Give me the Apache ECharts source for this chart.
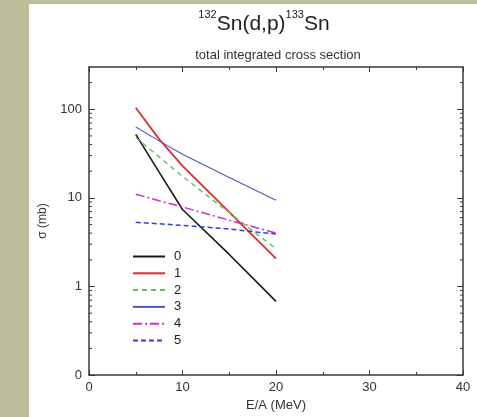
<!DOCTYPE html>
<html><head><meta charset="utf-8">
<script src="https://cdn.jsdelivr.net/npm/echarts@6/dist/echarts.min.js"></script>
<style>html,body{margin:0;padding:0;background:#fff}#wrap{position:relative;width:477px;height:417px;background:#bdbe99}#c{position:absolute;left:29px;top:4px;width:448px;height:413px;background:#fff}</style>
</head><body><div id="wrap"><div id="c"></div></div>
<script>
const energies = [5, 7.5, 10, 15, 20];
const seriesNames = ['0', '1', '2', '3', '4', '5'];
const sigma0 = [52, 19.5, 7.4, 2.3, 0.68];
const sigma1 = [104, 46, 23, 6.9, 2.06];
const sigma2 = [48, 29, 17.5, 6.8, 2.66];
const sigma3 = [63, 44, 31, 17, 9.4];
const sigma4 = [11, 9.3, 7.9, 5.6, 4.0];
const sigma5 = [5.3, 5.1, 4.9, 4.45, 3.9];
const xTicks = [0, 10, 20, 30, 40];
const yDecades = [0.1, 1, 10, 100];
const yMinor = [0.2,0.3,0.4,0.5,0.6,0.7,0.8,0.9,2,3,4,5,6,7,8,9,20,30,40,50,60,70,80,90,200];

const allSigma = [sigma0, sigma1, sigma2, sigma3, sigma4, sigma5];
const colors = ['#1a1a1a', '#d8302e', '#5cc25c', '#5252c8', '#d22cc4', '#3040c8'];
const widths = [1.6, 1.8, 1.4, 1.1, 1.5, 1.5];
const types = ['solid', 'solid', [5, 4], 'solid', [9, 3, 2, 3], [5, 3]];

const chart = echarts.init(document.getElementById('c'), null, {renderer: 'canvas'});
const FONT = 'Liberation Sans';
const axisColor = '#3a3a3a';
const lineSeries = allSigma.map((vals, i) => ({
  name: seriesNames[i], type: 'line', symbol: 'none', smooth: false,
  data: energies.map((e, k) => [e, vals[k]]),
  lineStyle: {color: colors[i], width: widths[i], type: types[i]},
  itemStyle: {color: colors[i]},
  z: 3
}));
const minorSeries = {
  type: 'custom', silent: true, z: 4,
  data: yMinor.map(v => [0, v]),
  renderItem: function (params, api) {
    const v = api.value(1);
    const l = api.coord([0, v]);
    const r = api.coord([40, v]);
    return {type: 'group', children: [
      {type: 'line', shape: {x1: l[0], y1: l[1], x2: l[0] + 3, y2: l[1]}, style: {stroke: axisColor, lineWidth: 1}},
      {type: 'line', shape: {x1: r[0], y1: r[1], x2: r[0] - 3, y2: r[1]}, style: {stroke: axisColor, lineWidth: 1}}
    ]};
  }
};
chart.setOption({
  animation: false,
  textStyle: {fontFamily: FONT},
  title: [{
    text: '{sup|132}{main|Sn(d,p)}{sup|133}{main|Sn}',
    left: 230, top: 0, textAlign: 'center',
    textStyle: {fontWeight: 'normal', rich: {
      main: {fontSize: 21, fontFamily: FONT, fontWeight: 'normal', color: '#222', verticalAlign: 'bottom', lineHeight: 26},
      sup: {fontSize: 11, fontFamily: FONT, fontWeight: 'normal', color: '#222', verticalAlign: 'top', lineHeight: 26, padding: [0, 0, 12, 0]}
    }}
  }, {
    text: 'total integrated cross section',
    left: 244, top: 40, textAlign: 'center',
    textStyle: {fontSize: 13, fontWeight: 'normal', fontFamily: FONT, color: '#333'}
  }],
  grid: {left: 59, right: 14, top: 63, bottom: 36, containLabel: false},
  legend: {
    orient: 'vertical', left: 98, top: 241,
    itemWidth: 32, itemHeight: 10, itemGap: 3.8,
    data: seriesNames,
    itemStyle: {opacity: 0},
    textStyle: {fontSize: 13, fontFamily: FONT, color: '#222', padding: [0, 0, 0, 4]}
  },
  xAxis: [{
    type: 'value', min: 0, max: 40, interval: 10, position: 'bottom',
    name: 'E/A (MeV)', nameLocation: 'middle', nameGap: 23,
    nameTextStyle: {fontSize: 13, fontFamily: FONT, color: '#333'},
    axisLine: {show: true, onZero: false, lineStyle: {color: axisColor, width: 1.5}},
    axisTick: {inside: true, length: 5, lineStyle: {color: axisColor}},
    minorTick: {show: true, splitNumber: 2, length: 3, lineStyle: {color: axisColor}},
    axisLabel: {fontSize: 13, color: '#333', margin: 6, fontFamily: FONT,
      formatter: v => xTicks.includes(v) ? String(v) : ''},
    splitLine: {show: false}
  }, {
    type: 'value', min: 0, max: 40, interval: 10, position: 'top',
    axisLine: {show: true, onZero: false, lineStyle: {color: axisColor, width: 1.5}},
    axisTick: {inside: true, length: 5, lineStyle: {color: axisColor}},
    minorTick: {show: true, splitNumber: 2, length: 3, lineStyle: {color: axisColor}},
    axisLabel: {show: false}, splitLine: {show: false}
  }],
  yAxis: [{
    type: 'log', logBase: 10, min: 0.1, max: 300, position: 'left',
    name: 'σ (mb)', nameLocation: 'middle', nameGap: 40, nameRotate: 90,
    nameTextStyle: {fontSize: 12, fontFamily: FONT, color: '#333'},
    axisLine: {show: true, onZero: false, lineStyle: {color: axisColor, width: 1.5}},
    axisTick: {show: true, inside: true, length: 6, lineStyle: {color: axisColor},
      customValues: yDecades},
    axisLabel: {fontSize: 13, color: '#333', margin: 7, fontFamily: FONT,
      customValues: yDecades,
      formatter: v => (Math.abs(v - 0.1) < 1e-9 ? '0' : String(Math.round(v)))},
    splitLine: {show: false}
  }, {
    type: 'log', logBase: 10, min: 0.1, max: 300, position: 'right',
    axisLine: {show: true, onZero: false, lineStyle: {color: axisColor, width: 1.5}},
    axisTick: {show: true, inside: true, length: 6, lineStyle: {color: axisColor}, customValues: yDecades},
    axisLabel: {show: false}, splitLine: {show: false}
  }],
  series: lineSeries.concat([minorSeries])
});
</script></body></html>
